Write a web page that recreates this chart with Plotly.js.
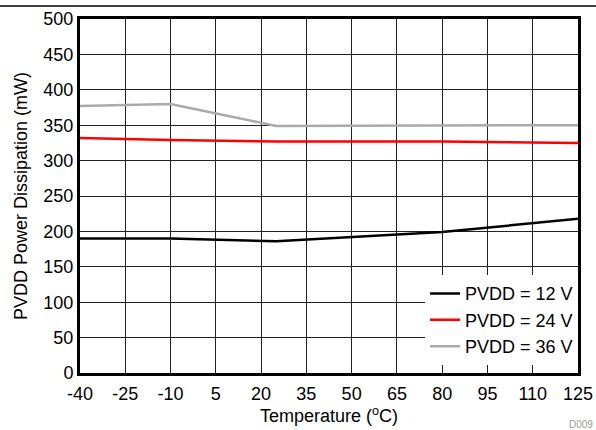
<!DOCTYPE html>
<html><head><meta charset="utf-8">
<script src="https://cdn.plot.ly/plotly-3.0.1.min.js"></script>
<style>html,body{margin:0;padding:0;background:#fff}#c{width:596px;height:430px}</style>
</head><body><div id="c"></div>
<script>
const temp12 = [-40, -10, 25, 50, 80, 125];
const pd12 = [190, 190, 186, 192, 199, 218];
const temp24 = [-40, -10, 25, 80, 125];
const pd24 = [332, 329, 327, 327, 325];
const temp36 = [-40, -10, 25, 125];
const pd36 = [377, 380, 349, 350];
const names = ['PVDD = 12 V', 'PVDD = 24 V', 'PVDD = 36 V'];
const colors = ['#000000', '#ff0000', '#aaaaaa'];
const xTicks = [-40, -25, -10, 5, 20, 35, 50, 65, 80, 95, 110, 125];

const data = [
  {x: temp12, y: pd12, name: names[0], mode: 'lines', line: {color: colors[0], width: 2.5}},
  {x: temp24, y: pd24, name: names[1], mode: 'lines', line: {color: colors[1], width: 2.5}},
  {x: temp36, y: pd36, name: names[2], mode: 'lines', line: {color: colors[2], width: 2.5}}
];
const fam = 'Liberation Sans, Arial, sans-serif';
const f = (s) => ({family: fam, size: s, color: '#000'});
const layout = {
  width: 596, height: 430,
  margin: {l: 80, r: 18, t: 19, b: 57},
  paper_bgcolor: '#fff', plot_bgcolor: '#fff',
  font: f(18),
  showlegend: true,
  legend: {x: 1, xanchor: 'right', y: 0.022, yanchor: 'bottom', bgcolor: '#fff',
           font: f(18), tracegroupgap: 0, itemwidth: 30, tracegroupgap: 0},
  xaxis: {range: [-40, 125], tickvals: xTicks, ticktext: xTicks.map(String), showgrid: true,
          gridcolor: '#222', gridwidth: 1, zeroline: false, showline: true, linecolor: '#000', linewidth: 3,
          mirror: true, ticks: '', ticklen: 0, tickfont: f(18), ticklabelstandoff: 2,
          title: {text: 'Temperature (<sup>o</sup>C)', font: f(18), standoff: 0}},
  yaxis: {range: [0, 500], dtick: 50, showgrid: true, gridcolor: '#222', gridwidth: 1, zeroline: false,
          showline: true, linecolor: '#000', linewidth: 3, mirror: true, ticks: '',
          tickfont: f(18),
          title: {text: 'PVDD Power Dissipation (mW)', font: f(18), standoff: 12}},
  shapes: [{type: 'line', xref: 'paper', yref: 'paper', x0: -0.2, x1: 1.1, y0: 1.037, y1: 1.037,
            line: {color: '#000', width: 1.5}}],
  annotations: [{text: 'D009', xref: 'paper', yref: 'paper', x: 1.034, y: -0.125, xanchor: 'right', yanchor: 'top',
                 showarrow: false, font: {family: fam, size: 10, color: '#999'}}]
};
Plotly.newPlot('c', data, layout, {staticPlot: true});
</script></body></html>
